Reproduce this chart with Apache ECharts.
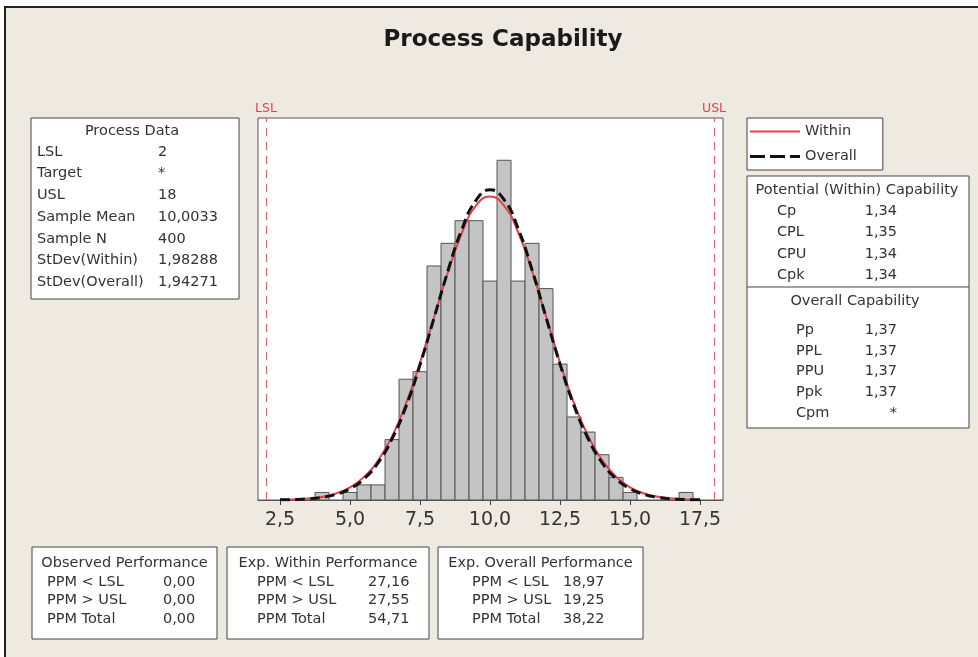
<!DOCTYPE html>
<html><head><meta charset="utf-8">
<script src="https://cdn.jsdelivr.net/npm/echarts@6/dist/echarts.min.js"></script>
<style>html,body{margin:0;padding:0;background:#fff;overflow:hidden}#c{width:978px;height:657px}</style>
</head><body><div id="c"></div>
<script>
// ---- data ----
const binCenters = [4.0, 4.5, 5.0, 5.5, 6.0, 6.5, 7.0, 7.5, 8.0, 8.5, 9.0, 9.5, 10.0, 10.5, 11.0, 11.5, 12.0, 12.5, 13.0, 13.5, 14.0, 14.5, 15.0, 15.5, 16.0, 16.5, 17.0];
const binCounts  = [1,   0,   1,   2,   2,   8,   16,  17,  31,  34,  37,  37,  29,   45,   29,   34,   28,   18,   11,   9,    6,    3,    1,    0,    0,    0,    1];
const binWidth = 0.5;

const curveX     = [2.5, 3.0, 3.5, 4.0, 4.5, 5.0, 5.5, 6.0, 6.5, 7.0, 7.5, 8.0, 8.5, 9.0, 9.5, 10.0, 10.5, 11.0, 11.5, 12.0, 12.5, 13.0, 13.5, 14.0, 14.5, 15.0, 15.5, 16.0, 16.5, 17.0, 17.5];
const withinFit  = [0.03, 0.08, 0.19, 0.41, 0.87, 1.67, 3.06, 5.23, 8.4, 12.8, 18.2, 24.2, 30.2, 35.4, 39.0, 40.2, 39.0, 35.5, 30.3, 24.3, 18.2, 12.8, 8.5, 5.3, 3.07, 1.68, 0.87, 0.42, 0.19, 0.08, 0.03];
const overallFit = [0.02, 0.06, 0.15, 0.35, 0.74, 1.49, 2.80, 4.92, 8.1, 12.4, 17.9, 24.1, 30.4, 35.9, 39.7, 41.1, 39.8, 36.0, 30.5, 24.2, 18.0, 12.5, 8.15, 4.95, 2.81, 1.50, 0.75, 0.35, 0.15, 0.06, 0.02];

const xTickValues = [2.5, 5.0, 7.5, 10.0, 12.5, 15.0, 17.5];
const specNames  = ['LSL', 'USL'];
const specValues = [2, 18];

const processDataLabels = ['LSL', 'Target', 'USL', 'Sample Mean', 'Sample N', 'StDev(Within)', 'StDev(Overall)'];
const processDataValues = ['2', '*', '18', '10,0033', '400', '1,98288', '1,94271'];

const potentialLabels = ['Cp', 'CPL', 'CPU', 'Cpk'];
const potentialValues = ['1,34', '1,35', '1,34', '1,34'];
const overallCapLabels = ['Pp', 'PPL', 'PPU', 'Ppk', 'Cpm'];
const overallCapValues = ['1,37', '1,37', '1,37', '1,37', '*'];

const perfLabels = ['PPM < LSL', 'PPM > USL', 'PPM Total'];
const observedValues  = ['0,00', '0,00', '0,00'];
const expWithinValues = ['27,16', '27,55', '54,71'];
const expOverallValues = ['18,97', '19,25', '38,22'];

// ---- drawing ----
const FONT = 'DejaVu Sans';
const TXT = '#333';
function txt(s, x, y, align) {
  return { type: 'text', x: x, y: y, z: 10,
    style: { text: s, fill: TXT, fontSize: 14.5, fontFamily: FONT, textAlign: align || 'left', textVerticalAlign: 'middle' } };
}
function box(x, y, w, h) {
  return { type: 'rect', z: 5, shape: { x: x, y: y, width: w, height: h }, style: { fill: '#fff', stroke: '#444', lineWidth: 1 } };
}
const g = [];
// page strips + frame
g.push({ type: 'rect', z: 1, shape: { x: 0, y: 0, width: 978, height: 6 }, style: { fill: '#fff' } });
g.push({ type: 'rect', z: 1, shape: { x: 0, y: 0, width: 4, height: 657 }, style: { fill: '#fff' } });
g.push({ type: 'rect', z: 2, shape: { x: 5, y: 7, width: 990, height: 670 }, style: { fill: 'none', stroke: '#222', lineWidth: 2 } });

// Process Data
g.push(box(31, 118, 208, 181));
g.push(txt('Process Data', 132, 131, 'center'));
processDataLabels.forEach((l, i) => {
  g.push(txt(l, 37, 152 + i * 21.7));
  g.push(txt(processDataValues[i], 158, 152 + i * 21.7));
});

// Capability box
g.push(box(747, 176, 222, 252));
g.push({ type: 'line', z: 6, shape: { x1: 747, y1: 287, x2: 969, y2: 287 }, style: { stroke: '#444', lineWidth: 1 } });
g.push(txt('Potential (Within) Capability', 857, 190, 'center'));
potentialLabels.forEach((l, i) => {
  g.push(txt(l, 777, 211 + i * 21.5));
  g.push(txt(potentialValues[i], 897, 211 + i * 21.5, 'right'));
});
g.push(txt('Overall Capability', 855, 301, 'center'));
overallCapLabels.forEach((l, i) => {
  g.push(txt(l, 796, 330 + i * 20.8));
  g.push(txt(overallCapValues[i], 897, 330 + i * 20.8, 'right'));
});

// Performance boxes
function perfBox(x, w, title, lx, vx, vals) {
  g.push(box(x, 547, w, 92));
  g.push(txt(title, x + w / 2, 563, 'center'));
  perfLabels.forEach((l, i) => {
    g.push(txt(l, lx, 582 + i * 18.5));
    g.push(txt(vals[i], vx, 582 + i * 18.5));
  });
}
perfBox(32, 185, 'Observed Performance', 47, 163, observedValues);
perfBox(227, 202, 'Exp. Within Performance', 257, 368, expWithinValues);
perfBox(438, 205, 'Exp. Overall Performance', 472, 563, expOverallValues);

const chart = echarts.init(document.getElementById('c'), null, { renderer: 'canvas' });
chart.setOption({
  backgroundColor: '#EEEAE1',
  animation: false,
  title: {
    text: 'Process Capability', left: 498, top: 24, textAlign: 'center',
    textStyle: { fontFamily: FONT, fontSize: 23, fontWeight: 'bold', color: '#1a1a1a' }
  },
  legend: {
    data: [
      { name: 'Within', icon: 'path://M0,0h50v2h-50z' },
      { name: 'Overall', icon: 'path://M0,0h15v3h-15zM20,0h15v3h-15zM40,0h10v3h-10z' }
    ],
    orient: 'vertical', left: 747, top: 118,
    backgroundColor: '#fff', borderColor: '#444', borderWidth: 1, borderRadius: 0,
    padding: [6, 26, 6, 3], itemGap: 10, itemWidth: 50, itemHeight: 14,
    textStyle: { fontFamily: FONT, fontSize: 14.5, color: TXT }
  },
  grid: { left: 258, top: 118, right: 255, bottom: 157, show: true, backgroundColor: '#fff', borderColor: '#555', borderWidth: 1, containLabel: false },
  xAxis: {
    type: 'value', min: 1.714, max: 18.32,
    axisLine: { show: true, lineStyle: { color: '#555' } },
    axisTick: { show: true, length: 5, customValues: xTickValues, lineStyle: { color: '#444' } },
    axisLabel: { customValues: xTickValues, margin: 11, fontFamily: FONT, fontSize: 19, color: TXT,
      formatter: v => v.toFixed(1).replace('.', ',') },
    splitLine: { show: false }
  },
  yAxis: { type: 'value', min: 0, max: 50.6, show: false, splitLine: { show: false } },
  graphic: g,
  series: [
    {
      type: 'custom', name: 'Histogram', silent: true,
      data: binCenters.map((c, i) => [c, binCounts[i]]),
      renderItem: function (params, api) {
        const c = api.value(0), v = api.value(1);
        if (!v) return null;
        const p0 = api.coord([c - binWidth / 2, v]);
        const p1 = api.coord([c + binWidth / 2, 0]);
        return { type: 'rect', shape: { x: p0[0], y: p0[1], width: p1[0] - p0[0], height: p1[1] - p0[1] },
          style: { fill: '#C4C4C4', stroke: '#555', lineWidth: 1 } };
      },
      markLine: {
        silent: true, symbol: ['none', 'none'],
        lineStyle: { color: '#E0606E', type: [8, 6], width: 1 },
        label: { show: true, position: 'end', formatter: '{b}', color: '#E0405A', fontFamily: FONT, fontSize: 12.5, distance: 3 },
        data: specValues.map((v, i) => ({ xAxis: v, name: specNames[i] }))
      }
    },
    {
      type: 'line', name: 'Within', smooth: true, symbol: 'none',
      data: curveX.map((x, i) => [x, withinFit[i]]),
      lineStyle: { color: '#E3414D', width: 2 }, itemStyle: { color: '#E3414D' }, z: 3
    },
    {
      type: 'line', name: 'Overall', smooth: true, symbol: 'none',
      data: curveX.map((x, i) => [x, overallFit[i]]),
      lineStyle: { color: '#111', width: 3, type: [10, 5] }, itemStyle: { color: '#111' }, z: 4
    }
  ]
});
</script>
</body></html>
